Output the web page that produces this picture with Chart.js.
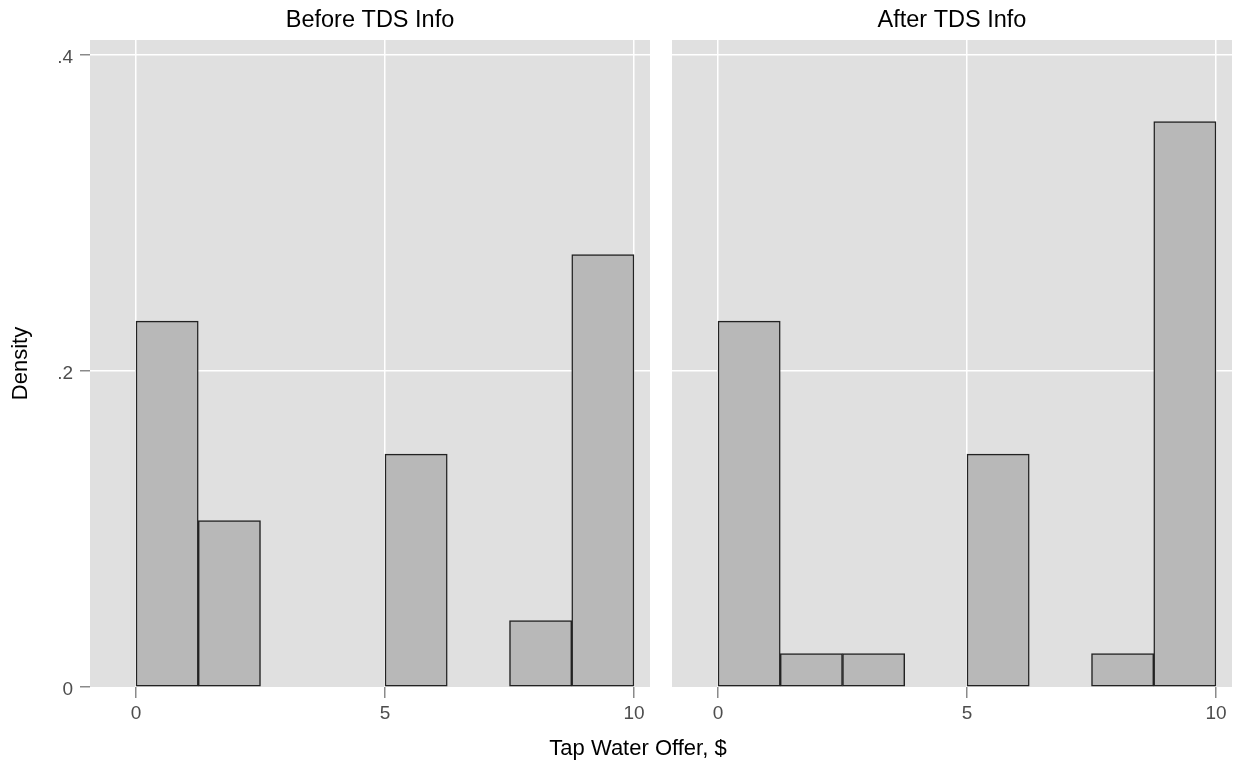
<!DOCTYPE html>
<html>
<head>
<meta charset="utf-8">
<script src="https://cdn.jsdelivr.net/npm/chart.js@4.4.0/dist/chart.umd.min.js"></script>
<style>
  html, body { margin: 0; padding: 0; background: #fff; }
  body { width: 1233px; height: 767px; position: relative; overflow: hidden; }
  canvas { position: absolute; top: 0; }
  #c1 { left: 0; }
  #c2 { left: 660px; }
  #xlabel {
    position: absolute; left: 0; width: 1276px; top: 735px;
    text-align: center; font: 22px 'Liberation Sans', Arial, Helvetica, sans-serif; color: #000;
    line-height: 26px;
  }
</style>
</head>
<body>
<canvas id="c1" width="660" height="767"></canvas>
<canvas id="c2" width="573" height="767"></canvas>
<div id="xlabel">Tap Water Offer, $</div>
<script>
// ---- data ----
const binCenters = [0.625, 1.875, 3.125, 4.375, 5.625, 6.875, 8.125, 9.375]; // bins of width 1.25 on 0..10
const beforeDensity = [0.2316, 0.1053, null, null, 0.1474, null, 0.0421, 0.2737];
const afterDensity  = [0.2316, 0.0211, 0.0211, null, 0.1474, null, 0.0211, 0.3579];
const panelTitles = ['Before TDS Info', 'After TDS Info'];
const xTicks = [0, 5, 10];
const xTickLabels = ['0', '5', '10'];
const yTicks = [0, 0.2, 0.4];
const yTickLabels = ['0', '.2', '.4'];
const yTitle = 'Density';

Chart.defaults.font.family = "'Liberation Sans', Arial, Helvetica, sans-serif";

const bgPlugin = {
  id: 'plotBg',
  beforeDraw(chart) {
    const a = chart.chartArea, ctx = chart.ctx;
    ctx.save();
    ctx.fillStyle = '#e0e0e0';
    ctx.fillRect(a.left, a.top, a.right - a.left, a.bottom - a.top);
    ctx.restore();
  }
};

function makeChart(canvasId, values, title, showY) {
  return new Chart(document.getElementById(canvasId), {
    type: 'bar',
    data: {
      datasets: [{
        data: binCenters.map((x, i) => ({ x: x, y: values[i] })),
        backgroundColor: '#b8b8b8',
        borderColor: '#222222',
        borderWidth: 1.5,
        borderSkipped: false,
        barPercentage: 1,
        categoryPercentage: 1
      }]
    },
    options: {
      responsive: false,
      animation: false,
      devicePixelRatio: 1,
      layout: { padding: showY ? { left: 0, right: 10, top: 0, bottom: 0 } : { left: 0, right: 1, top: 0, bottom: 0 } },
      plugins: {
        legend: { display: false },
        tooltip: { enabled: false },
        title: {
          display: true,
          text: title,
          fullSize: false,
          color: '#000',
          font: { size: 23.5, weight: 'normal', lineHeight: 1.2 },
          padding: { top: 6, bottom: 5.8 }
        }
      },
      scales: {
        x: {
          type: 'linear',
          offset: false,
          min: -0.9237,
          max: 10.3213,
          afterBuildTicks(scale) { scale.ticks = xTicks.map(v => ({ value: v })); },
          afterFit(scale) { scale.height = 80; },
          border: { display: false },
          grid: {
            offset: false,
            color: '#ffffff',
            lineWidth: 1.5,
            tickColor: '#8a8a8a',
            tickWidth: 1.5,
            tickLength: 11
          },
          ticks: {
            color: '#4d4d4d',
            font: { size: 19 },
            padding: 4,
            maxRotation: 0,
            callback: (v, i) => xTickLabels[i]
          }
        },
        y: {
          type: 'linear',
          min: 0,
          max: 0.4095,
          afterBuildTicks(scale) { scale.ticks = yTicks.map(v => ({ value: v })); },
          afterFit(scale) { scale.width = showY ? 90 : 12; },
          border: { display: false },
          grid: {
            color: (c) => (c.tick && c.tick.value === 0) ? 'rgba(0,0,0,0)' : '#ffffff',
            lineWidth: 1.5,
            tickColor: '#8a8a8a',
            tickWidth: 1.5,
            tickLength: 10,
            drawTicks: showY
          },
          ticks: {
            display: showY,
            color: '#4d4d4d',
            font: { size: 19 },
            padding: 7,
            labelOffset: 3,
            callback: (v, i) => yTickLabels[i]
          },
          title: {
            display: showY,
            text: yTitle,
            color: '#000',
            font: { size: 22, lineHeight: 1.2 },
            padding: { top: 8, bottom: 0 }
          }
        }
      }
    },
    plugins: [bgPlugin]
  });
}

makeChart('c1', beforeDensity, panelTitles[0], true);
makeChart('c2', afterDensity, panelTitles[1], false);
</script>
</body>
</html>
